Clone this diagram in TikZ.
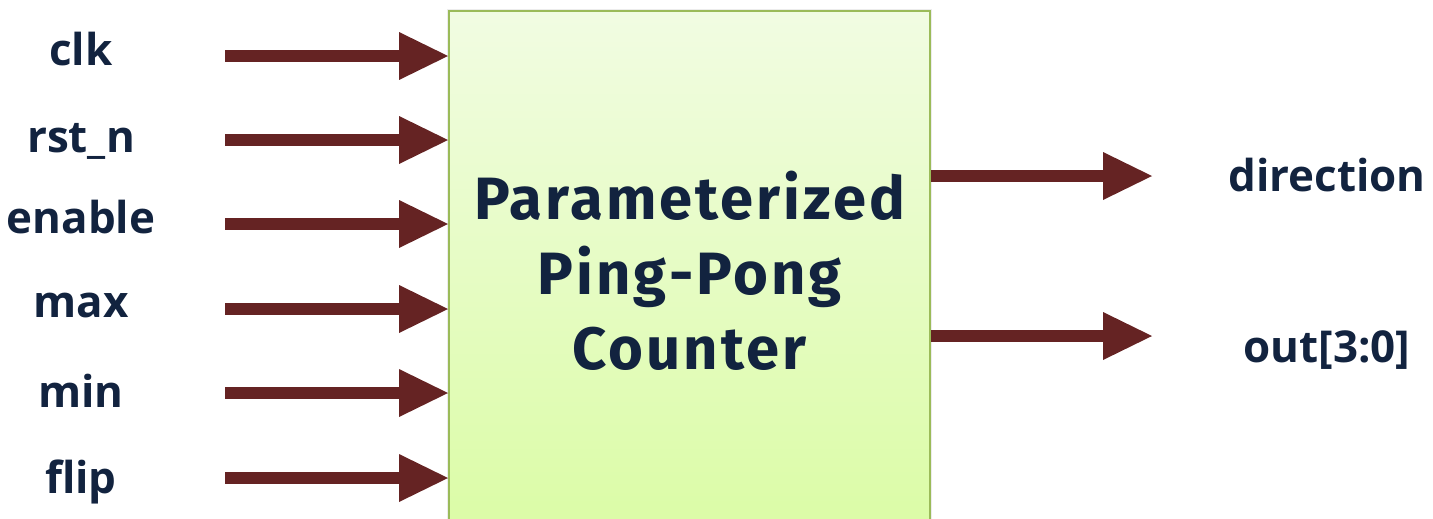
\documentclass[tikz,border=0pt]{standalone}
\usepackage{fontspec}
\setmainfont{Fira Sans}
\newfontfamily\portfont{Open Sans}
\newfontfamily\titlefont[LetterSpace=5]{Fira Sans}
\usetikzlibrary{arrows.meta,shadows}
\definecolor{wirered}{HTML}{652323}
\definecolor{ink}{HTML}{12233F}
\definecolor{edgegreen}{HTML}{9BBB59}
\definecolor{topfill}{HTML}{F1FCE2}
\definecolor{botfill}{HTML}{DBFCA6}
\tikzset{
  port/.style={anchor=base, text=ink, font=\portfont\bfseries\fontsize{25}{30}\selectfont},
  sig/.style={draw=wirered, line width=0.24cm, -{Triangle[length=0.98cm,width=0.96cm,line width=0pt]}},
  core/.style={draw=edgegreen, line width=0.045cm, top color=topfill, bottom color=botfill,
    drop shadow={shadow xshift=0pt, shadow yshift=0pt, shadow scale=1.01, opacity=0.15},
    text=ink, align=center, font=\titlefont\bfseries\fontsize{34}{42.7}\selectfont,
    minimum width=9.62cm, minimum height=10.4cm, inner sep=0pt}
}
\begin{document}
\begin{tikzpicture}[x=0.02cm, y=-0.02cm]
\useasboundingbox (0,0) rectangle (1433,518);
\clip (0,0) rectangle (1433,518);
\node[core, anchor=north west] (core) at (448,10) {Parameterized\\Ping-Pong\\Counter};
% inputs
\foreach \name/\txt/\y/\b in {clk/clk/56/65, rstn/rst\_n/140/152, en/enable/224/233,
  max/max/309/317, min/min/393/407, flip/flip/478/493}
{
    \node[port] (\name) at (81,\b) {\txt};
    \coordinate (\name in) at (225,\y);
    \draw[sig] (\name in) -- (\name in -| core.west);
}
% outputs
\foreach \name/\txt/\y/\b in {dir/direction/176/191, cnt/out[3:0]/336/362}
{
    \node[port] (\name) at (1327,\b) {\txt};
    \coordinate (\name out) at (1152,\y);
    \draw[sig] (core.east |- \name out) -- (\name out);
}
\end{tikzpicture}
\end{document}
